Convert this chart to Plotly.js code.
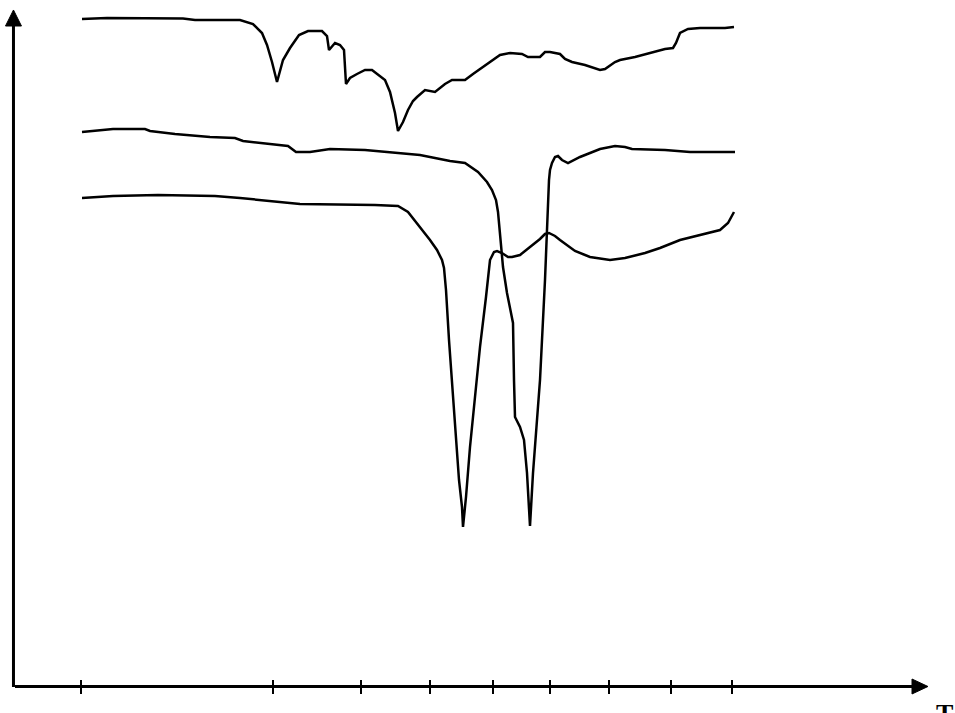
<!DOCTYPE html>
<html>
<head>
<meta charset="utf-8">
<script src="https://cdn.plot.ly/plotly-3.0.1.min.js"></script>
<style>html,body{margin:0;padding:0;background:#fff;}#chart{width:955px;height:713px;}</style>
</head>
<body>
<div id="chart"></div>
<script>
// Tick positions along the horizontal axis
const tickPositions = [81, 273, 361, 430, 493, 550, 609, 671, 732];

// Upper curve
const curve1X = [82,107,183,195,240,253,262,267,272,277,283,290,299,308,322,327,329,335,340,344,346,350,357,365,372,385,390,395,398,403,408,413,417,425,435,445,452,465,473,480,489,495,500,510,522,528,540,545,550,560,565,572,585,600,605,615,620,635,650,665,673,676,680,688,700,725,734];
const curve1Y = [666,667,666.5,665,665,661,652,640,623,603,625,637,650,654,654,649,635,642,640,635,601,607,611,615,615,605,593,572,554,563,575,584,588,595,593,601,605,605,611,616,623,627,630,632,631,628,628,633,633,631,626,623,620,615,616,623,625,628,632,636,637,642,652,656,657,657,658];

// Middle curve
const curve2X = [82,113,145,150,175,210,235,243,288,296,310,330,365,390,420,450,465,478,487,492,496,498,500,503,507,510,513,514,515,520,524,527,530,533,535,540,545,547,548,549,550,552,555,558,562,568,580,600,615,625,632,665,690,735];
const curve2Y = [553,556,556,554,551,548,547,544,539,533,533,536,535,533,530,524,522,513,503,495,485,473,450,418,392,378,362,305,268,258,245,212,159,212,238,305,405,455,488,505,515,522,528,529,525,522,528,536,539,538,536,535,533,533];

// Lower curve
const curve3X = [82,113,158,215,240,300,375,398,408,420,430,437,442,444,446,449,452,455,459,462,463,466,470,475,480,486,490,494,497,502,508,512,520,530,540,545,549,555,560,575,590,610,625,645,660,680,700,720,728,734];
const curve3Y = [487,489,490,489,487,481,480,479,473,458,445,435,425,417,395,345,305,255,205,178,158,188,238,288,338,388,425,433,434,432,428,428,430,438,446,451,452,449,445,434,428,425,427,432,437,445,450,455,462,473];

const lineStyle = {color: '#000', width: 2.5};
const traces = [
  {x: curve1X, y: curve1Y, mode: 'lines', line: lineStyle, hoverinfo: 'skip'},
  {x: curve2X, y: curve2Y, mode: 'lines', line: lineStyle, hoverinfo: 'skip'},
  {x: curve3X, y: curve3Y, mode: 'lines', line: lineStyle, hoverinfo: 'skip'},
  {x: [tickPositions[0]], y: [0], xaxis: 'x2', mode: 'none', hoverinfo: 'skip'}
];

const layout = {
  width: 955, height: 713,
  margin: {l: 15, r: 43, t: 5, b: 28, pad: 0},
  paper_bgcolor: '#fff', plot_bgcolor: '#fff',
  showlegend: false,
  xaxis: {
    range: [15, 912], showgrid: false, zeroline: false,
    showline: true, linecolor: '#000', linewidth: 3,
    tickmode: 'array', tickvals: tickPositions, showticklabels: false,
    ticks: 'outside', ticklen: 6, tickwidth: 2, tickcolor: '#000'
  },
  xaxis2: {
    overlaying: 'x', matches: 'x', anchor: 'y', range: [15, 912],
    showgrid: false, zeroline: false, showline: false,
    tickmode: 'array', tickvals: tickPositions, showticklabels: false,
    ticks: 'inside', ticklen: 5, tickwidth: 2, tickcolor: '#000', side: 'bottom'
  },
  yaxis: {
    range: [0, 680], showgrid: false, zeroline: false,
    showline: false, showticklabels: false, ticks: ''
  },
  shapes: [
    {type: 'line', xref: 'paper', yref: 'paper', x0: -0.0017, x1: -0.0017, y0: -0.003, y1: 0.9691,
     line: {color: '#000', width: 3}},
    {type: 'path', xref: 'paper', yref: 'paper',
     path: 'M -0.0106,0.9691 L 0.0072,0.9691 L -0.0017,0.99265 Z',
     fillcolor: '#000', line: {color: '#000', width: 1}},
    {type: 'path', xref: 'paper', yref: 'paper',
     path: 'M 1.0,0.0088 L 1.0,-0.0132 L 1.0178,-0.0022 Z',
     fillcolor: '#000', line: {color: '#000', width: 1}}
  ],
  annotations: [
    {text: '<b>T</b>', xref: 'paper', yref: 'paper', x: 1.0357, y: -0.0175,
     xanchor: 'center', yanchor: 'top', showarrow: false,
     font: {family: 'Liberation Serif, Times New Roman, serif', size: 26, color: '#000'}}
  ]
};

Plotly.newPlot('chart', traces, layout, {staticPlot: true, displayModeBar: false});
</script>
</body>
</html>
